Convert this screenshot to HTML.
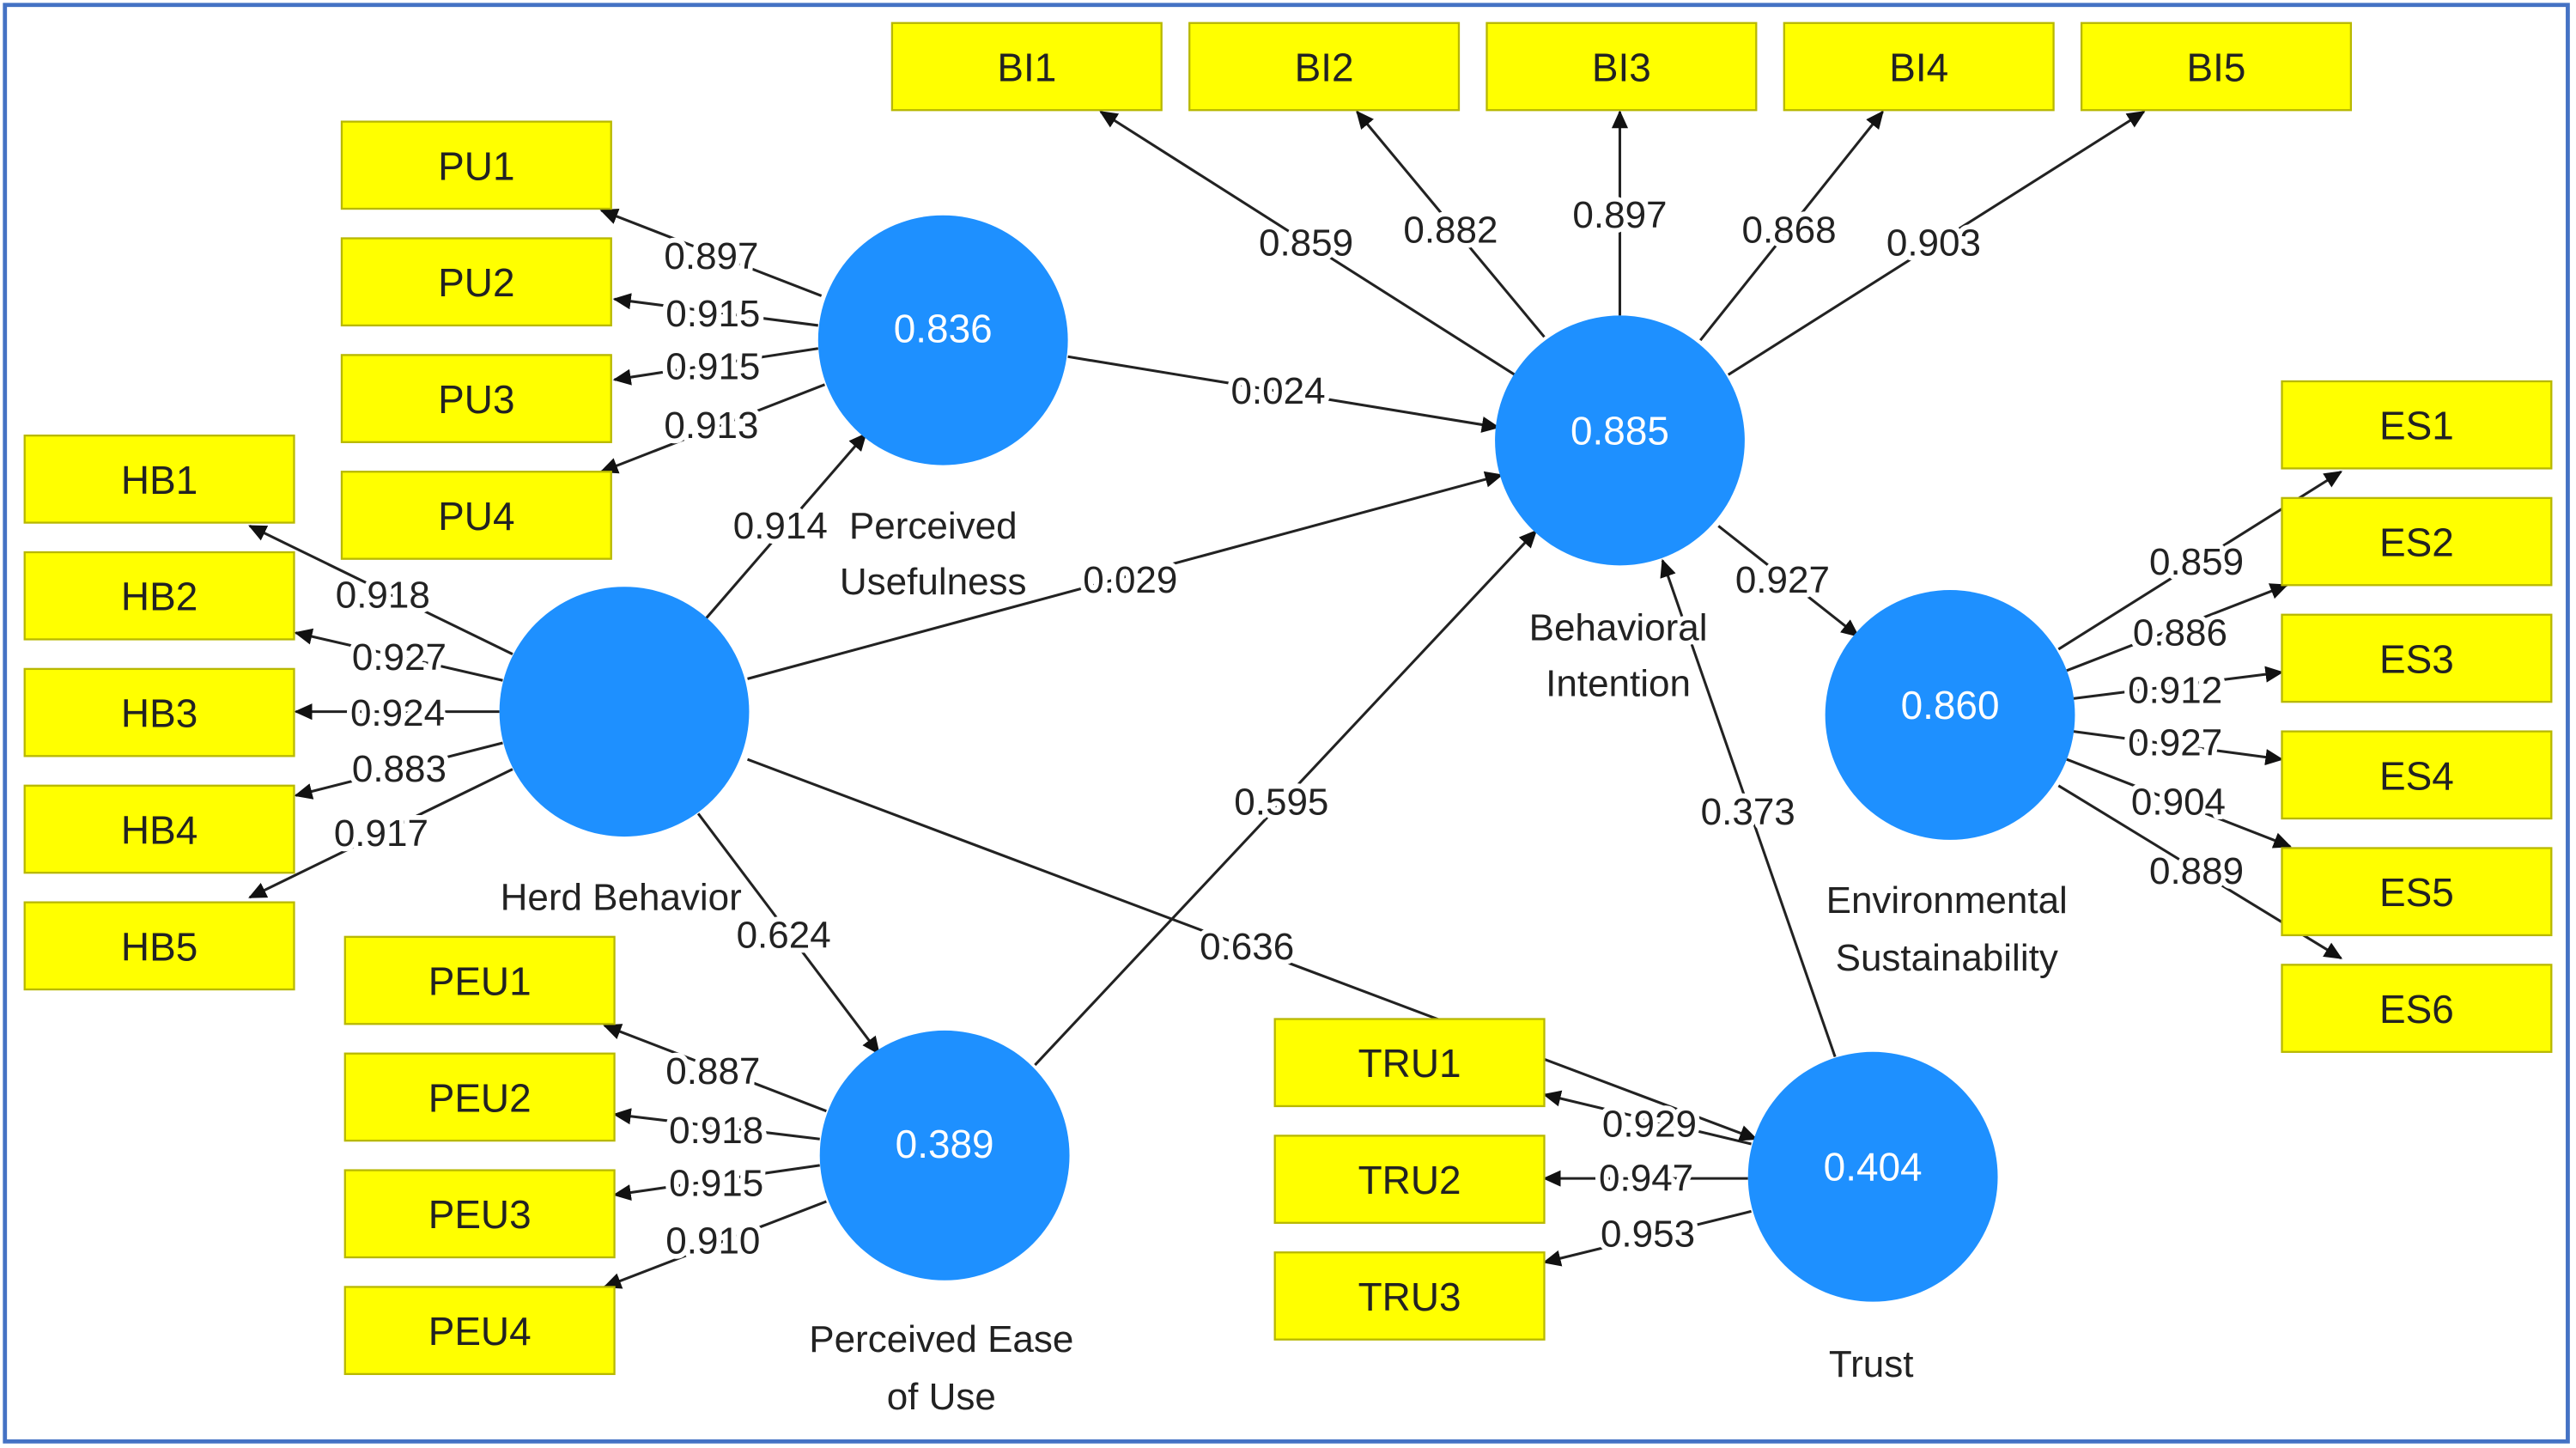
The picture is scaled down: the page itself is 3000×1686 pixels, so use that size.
<!DOCTYPE html>
<html><head><meta charset="utf-8"><style>
html,body{margin:0;padding:0;background:#fff;}
svg{display:block;}
text{font-family:"Liberation Sans","DejaVu Sans",sans-serif;font-size:23px;text-anchor:middle;dominant-baseline:central;}
.l{fill:#222;stroke:#fff;stroke-width:6px;paint-order:stroke;stroke-linejoin:round;}
.b{fill:#222;font-size:24px;}
.c{fill:#fff;font-size:24px;}
.n{fill:#222;font-size:23px;}
line{stroke:#222;stroke-width:1.6;marker-end:url(#a);}
rect.y{fill:#ffff00;stroke:#b8b800;stroke-width:1.2;}
circle{fill:#1e90ff;}
</style></head><body>
<svg width="3000" height="1686" viewBox="0 0 1568 881" preserveAspectRatio="none" xmlns="http://www.w3.org/2000/svg">
<defs><marker id="a" markerWidth="12" markerHeight="12" refX="10" refY="5" orient="auto" markerUnits="userSpaceOnUse"><path d="M0,0 L11,5 L0,10 z" fill="#111"/></marker></defs>
<rect x="0" y="0" width="1568" height="881" fill="#fff"/>
<rect x="3" y="3" width="1560" height="874" fill="none" stroke="#4472c4" stroke-width="2.5"/>

<!-- lines -->
<line x1="922" y1="228" x2="670" y2="68"/><line x1="940" y1="205" x2="826" y2="68"/><line x1="986" y1="192" x2="986" y2="68"/><line x1="1035" y1="207" x2="1146" y2="68"/><line x1="1052" y1="228" x2="1305" y2="68"/>
<line x1="500" y1="180" x2="366" y2="128"/><line x1="498" y1="198" x2="374" y2="182"/><line x1="498" y1="212" x2="374" y2="231"/><line x1="502" y1="234" x2="366" y2="287"/>
<line x1="312" y1="398" x2="152" y2="320"/><line x1="306" y1="414" x2="180" y2="385"/><line x1="304" y1="433" x2="180" y2="433"/><line x1="306" y1="452" x2="180" y2="484"/><line x1="312" y1="468" x2="152" y2="546"/>
<line x1="503" y1="676" x2="368" y2="624"/><line x1="499" y1="693" x2="374" y2="678"/><line x1="499" y1="709" x2="374" y2="727"/><line x1="503" y1="731" x2="368" y2="783"/>
<line x1="1066" y1="696" x2="940" y2="666"/><line x1="1064" y1="717" x2="940" y2="717"/><line x1="1066" y1="737" x2="940" y2="768"/>
<line x1="1253" y1="395" x2="1425" y2="287"/><line x1="1258" y1="408" x2="1392" y2="356"/><line x1="1262" y1="425" x2="1389" y2="409"/><line x1="1262" y1="445" x2="1389" y2="462"/><line x1="1258" y1="462" x2="1394" y2="515"/><line x1="1253" y1="478" x2="1425" y2="583"/>
<line x1="650" y1="217" x2="912" y2="260"/><line x1="455" y1="413" x2="914" y2="289"/><line x1="430" y1="376" x2="527" y2="264"/><line x1="425" y1="495" x2="535" y2="641"/><line x1="455" y1="462" x2="1069" y2="693"/><line x1="630" y1="648" x2="935" y2="323"/><line x1="1117" y1="643" x2="1012" y2="341"/><line x1="1046" y1="320" x2="1131" y2="387"/>

<!-- boxes -->
<g>
<rect class="y" x="543" y="14" width="164" height="53"/><rect class="y" x="724" y="14" width="164" height="53"/><rect class="y" x="905" y="14" width="164" height="53"/><rect class="y" x="1086" y="14" width="164" height="53"/><rect class="y" x="1267" y="14" width="164" height="53"/>
<rect class="y" x="208" y="74" width="164" height="53"/><rect class="y" x="208" y="145" width="164" height="53"/><rect class="y" x="208" y="216" width="164" height="53"/><rect class="y" x="208" y="287" width="164" height="53"/>
<rect class="y" x="15" y="265" width="164" height="53"/><rect class="y" x="15" y="336" width="164" height="53"/><rect class="y" x="15" y="407" width="164" height="53"/><rect class="y" x="15" y="478" width="164" height="53"/><rect class="y" x="15" y="549" width="164" height="53"/>
<rect class="y" x="210" y="570" width="164" height="53"/><rect class="y" x="210" y="641" width="164" height="53"/><rect class="y" x="210" y="712" width="164" height="53"/><rect class="y" x="210" y="783" width="164" height="53"/>
<rect class="y" x="776" y="620" width="164" height="53"/><rect class="y" x="776" y="691" width="164" height="53"/><rect class="y" x="776" y="762" width="164" height="53"/>
<rect class="y" x="1389" y="232" width="164" height="53"/><rect class="y" x="1389" y="303" width="164" height="53"/><rect class="y" x="1389" y="374" width="164" height="53"/><rect class="y" x="1389" y="445" width="164" height="53"/><rect class="y" x="1389" y="516" width="164" height="53"/><rect class="y" x="1389" y="587" width="164" height="53"/>
</g>
<g class="b">
<text class="b" x="625" y="41">BI1</text><text class="b" x="806" y="41">BI2</text><text class="b" x="987" y="41">BI3</text><text class="b" x="1168" y="41">BI4</text><text class="b" x="1349" y="41">BI5</text>
<text class="b" x="290" y="101">PU1</text><text class="b" x="290" y="172">PU2</text><text class="b" x="290" y="243">PU3</text><text class="b" x="290" y="314">PU4</text>
<text class="b" x="97" y="292">HB1</text><text class="b" x="97" y="363">HB2</text><text class="b" x="97" y="434">HB3</text><text class="b" x="97" y="505">HB4</text><text class="b" x="97" y="576">HB5</text>
<text class="b" x="292" y="597">PEU1</text><text class="b" x="292" y="668">PEU2</text><text class="b" x="292" y="739">PEU3</text><text class="b" x="292" y="810">PEU4</text>
<text class="b" x="858" y="647">TRU1</text><text class="b" x="858" y="718">TRU2</text><text class="b" x="858" y="789">TRU3</text>
<text class="b" x="1471" y="259">ES1</text><text class="b" x="1471" y="330">ES2</text><text class="b" x="1471" y="401">ES3</text><text class="b" x="1471" y="472">ES4</text><text class="b" x="1471" y="543">ES5</text><text class="b" x="1471" y="614">ES6</text>
</g>

<!-- circles -->
<circle cx="574" cy="207" r="76"/><circle cx="986" cy="268" r="76"/><circle cx="380" cy="433" r="76"/><circle cx="1187" cy="435" r="76"/><circle cx="575" cy="703" r="76"/><circle cx="1140" cy="716" r="76"/>
<text class="c" x="574" y="200">0.836</text><text class="c" x="986" y="262">0.885</text><text class="c" x="1187" y="429">0.860</text><text class="c" x="575" y="696">0.389</text><text class="c" x="1140" y="710">0.404</text>

<!-- construct names -->
<text class="l" x="568" y="320">Perceived</text><text class="l" x="568" y="354">Usefulness</text>
<text class="l" x="985" y="382">Behavioral</text><text class="l" x="985" y="416">Intention</text>
<text class="l" x="378" y="546">Herd Behavior</text>
<text class="l" x="1185" y="548">Environmental</text><text class="l" x="1185" y="583">Sustainability</text>
<text class="l" x="573" y="815">Perceived Ease</text><text class="l" x="573" y="850">of Use</text>
<text class="l" x="1139" y="830">Trust</text>

<!-- path labels -->
<text class="l" x="795" y="148">0.859</text><text class="l" x="883" y="140">0.882</text><text class="l" x="986" y="131">0.897</text><text class="l" x="1089" y="140">0.868</text><text class="l" x="1177" y="148">0.903</text>
<text class="l" x="433" y="156">0.897</text><text class="l" x="434" y="191">0.915</text><text class="l" x="434" y="223">0.915</text><text class="l" x="433" y="259">0.913</text>
<text class="l" x="233" y="362">0.918</text><text class="l" x="243" y="400">0.927</text><text class="l" x="242" y="434">0.924</text><text class="l" x="243" y="468">0.883</text><text class="l" x="232" y="507">0.917</text>
<text class="l" x="434" y="652">0.887</text><text class="l" x="436" y="688">0.918</text><text class="l" x="436" y="720">0.915</text><text class="l" x="434" y="755">0.910</text>
<text class="l" x="1004" y="684">0.929</text><text class="l" x="1002" y="717">0.947</text><text class="l" x="1003" y="751">0.953</text>
<text class="l" x="1337" y="342">0.859</text><text class="l" x="1327" y="385">0.886</text><text class="l" x="1324" y="420">0.912</text><text class="l" x="1324" y="452">0.927</text><text class="l" x="1326" y="488">0.904</text><text class="l" x="1337" y="530">0.889</text>
<text class="l" x="778" y="238">0.024</text><text class="l" x="688" y="353">0.029</text><text class="l" x="475" y="320">0.914</text><text class="l" x="477" y="569">0.624</text><text class="l" x="759" y="576">0.636</text><text class="l" x="780" y="488">0.595</text><text class="l" x="1064" y="494">0.373</text><text class="l" x="1085" y="353">0.927</text>
</svg>
</body></html>
